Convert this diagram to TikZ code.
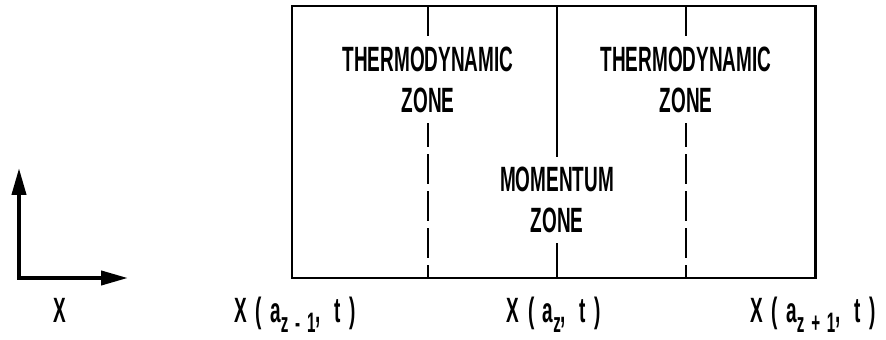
\documentclass[tikz,border=0pt]{standalone}
\usepackage{fontspec}
\setmainfont{Liberation Sans}[FakeStretch=0.54]
\newfontfamily\tagfont{Liberation Sans}[FakeStretch=0.54,LetterSpace=24]
\usetikzlibrary{arrows.meta,positioning}
\definecolor{ink}{HTML}{000000}
\newcommand{\zsub}[1]{\raisebox{-0.3em}{\fontsize{16}{16}\selectfont #1}}
\tikzset{
  frame/.style={draw=ink,line width=1.7pt},
  divider/.style={draw=ink,line width=1.1pt},
  dashdiv/.style={divider,dash pattern=on 0.6cm off 0.14cm},
  zonelabel/.style={fill=white,align=center,inner sep=0.2cm,text=ink,
                    font=\fontsize{20}{23.5}\selectfont\bfseries},
  poslabel/.style={anchor=base,inner sep=0pt,text=ink,
                   font=\tagfont\fontsize{20}{22}\selectfont\bfseries},
  axisarr/.style={{Triangle[length=5.4mm,width=2.8mm]}-{Triangle[length=5.4mm,width=2.8mm]},
                  line width=2.3pt,draw=ink}
}
\begin{document}
\begin{tikzpicture}[x=1cm,y=1cm]
    \path[use as bounding box] (0,0) rectangle (17.72,6.78);
    % lagrangian cell and its zones
    \coordinate (lo) at (5.84,1.22);
    \coordinate (hi) at (16.30,6.66);
    \draw[dashdiv] (8.56,6.66) -- (8.56,1.22);
    \draw[divider] (11.14,6.66) -- (11.14,1.22);
    \draw[dashdiv] (13.72,6.66) -- (13.72,1.22);
    \draw[frame] (lo) rectangle (hi);

    \node[zonelabel] (thermoL) at (8.56,5.18) {THERMODYNAMIC\\ZONE};
    \node[zonelabel] (thermoR) at (13.72,5.18) {THERMODYNAMIC\\ZONE};
    \node[zonelabel] (momzone) at (11.14,2.78) {MOMENTUM\\ZONE};

    % axis
    \coordinate (vtip) at (0.38,3.42);
    \coordinate (orig) at (0.38,1.22);
    \coordinate (htip) at (2.56,1.22);
    \draw[axisarr] (vtip) -- (orig) -- (htip);
    \node[poslabel] (xaxis) at (1.20,0.34) {X};

    \node[poslabel] (posL) at (5.90,0.34) {X(a\zsub{z-1}, t)};
    \node[poslabel] (posM) at (11.08,0.34) {X(a\zsub{z}, t)};
    \node[poslabel] (posR) at (16.26,0.34) {X(a\zsub{z+1}, t)};
\end{tikzpicture}
\end{document}
